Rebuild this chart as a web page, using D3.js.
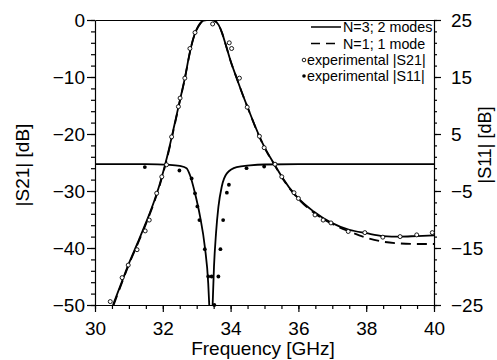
<!DOCTYPE html>
<html><head><meta charset="utf-8">
<script src="https://cdn.jsdelivr.net/npm/d3@7"></script>
<style>
html,body{margin:0;padding:0;background:#fff;}
svg{display:block;font-family:"Liberation Sans",Arial,Helvetica,sans-serif;}
</style></head>
<body><svg id="chart" width="497" height="360"></svg>
<script>
// ---------- data ----------
const xTicks = [30, 32, 34, 36, 38, 40];
const yLeftTicks = [0, -10, -20, -30, -40, -50];
const yRightTicks = [25, 15, 5, -5, -15, -25];

// model |S21|, N=3; 2 modes (GHz, dB)
const s21N3Freq = [30.53,30.8,31.0,31.25,31.5,31.75,31.9,32.05,32.2,32.35,32.5,32.65,32.8,32.9,33.0,33.1,33.2,33.3,33.45,33.55,33.65,33.75,33.85,34.0,34.18,34.3,34.5,34.85,35.0,35.3,35.5,35.95,36.45,36.95,37.5,38.0,38.5,39.0,39.5,40.0];
const s21N3Val  = [-50,-45.8,-42.7,-39.2,-35.6,-31.7,-29.0,-25.8,-22.2,-18.2,-14.2,-10.2,-5.6,-3.2,-1.6,-0.6,-0.1,0,0,-0.2,-0.9,-2.3,-4.2,-7.2,-10.2,-12.2,-15.3,-20.4,-22.3,-25.4,-27.4,-31.0,-33.6,-35.5,-36.8,-37.4,-37.9,-38.0,-37.9,-37.8];

// model |S21|, N=1; 1 mode
const s21N1Freq = [30.55,30.8,31.0,31.25,31.5,31.75,31.9,32.05,32.2,32.35,32.5,32.65,32.8,32.9,33.0,33.1,33.2,33.3,33.45,33.55,33.65,33.75,33.85,34.0,34.18,34.3,34.5,34.85,35.0,35.3,35.5,36.0,36.5,37.0,37.5,38.0,38.5,39.0,39.5,40.0];
const s21N1Val  = [-50,-46.0,-42.9,-39.4,-35.8,-31.9,-29.2,-26.0,-22.4,-18.4,-14.3,-10.3,-5.7,-3.3,-1.7,-0.7,-0.1,0,0,-0.2,-0.9,-2.3,-4.2,-7.2,-10.2,-12.2,-15.3,-20.5,-22.4,-25.5,-27.5,-31.4,-34.0,-35.8,-37.1,-38.2,-38.9,-39.2,-39.3,-39.3];

// model |S11| (right axis, dB)
const s11Freq = [30.0,31.5,32.2,32.5,32.7,32.8,32.95,33.1,33.24,33.34,33.37,33.42,33.47,33.51,33.57,33.64,33.74,33.89,34.18,34.57,35.0,36.0,40.0];
const s11Val  = [-0.3,-0.3,-0.4,-0.6,-1.0,-2.2,-5.4,-9.5,-14.8,-21.2,-25,-32,-25,-18.3,-12.4,-7.8,-4.2,-1.9,-0.8,-0.5,-0.35,-0.3,-0.3];

// experimental |S21|
const expS21Freq = [30.45,30.8,30.98,31.24,31.48,31.6,31.82,31.97,32.11,32.26,32.46,32.51,32.65,32.8,32.95,33.47,33.96,34.03,34.26,34.49,34.85,34.99,35.31,35.51,35.87,36.0,36.49,36.73,36.96,37.47,37.96,38.49,39.0,39.49,39.95];
const expS21Val  = [-49.4,-45.2,-43.0,-40.3,-37.0,-35.1,-30.4,-27.5,-25.4,-20.5,-15.2,-13.7,-10.2,-5.0,-2.2,-0.7,-4.0,-5.0,-10.2,-15.3,-20.4,-22.4,-25.3,-27.5,-30.3,-31.3,-34.2,-35.1,-35.6,-37.1,-37.3,-38.1,-38.0,-37.7,-37.3];

// experimental |S11| (right axis)
const expS11Freq = [31.47,32.49,32.85,32.95,33.02,33.08,33.24,33.34,33.44,33.52,33.64,33.7,33.78,33.89,33.95,34.47,34.99];
const expS11Val  = [-0.8,-1.4,-2.8,-5.4,-7.7,-10.1,-15.2,-20,-20,-25,-20,-15.2,-10.1,-5.3,-3.9,-1.0,-0.7];

const legendLabels = ["N=3; 2 modes", "N=1; 1 mode", "experimental |S21|", "experimental |S11|"];

// ---------- drawing ----------
const svg = d3.select("#chart");
const x = d3.scaleLinear().domain([30, 40]).range([95, 434]);
const yL = d3.scaleLinear().domain([-50, 0]).range([305, 20]);
const yR = d3.scaleLinear().domain([-25, 25]).range([305, 20]);
const fmt = d3.format("d");
const FS = 19;

svg.append("defs").append("clipPath").attr("id", "clip")
  .append("rect").attr("x", 95).attr("y", 20).attr("width", 339).attr("height", 285);

// minor ticks
const axStyle = g => { g.selectAll("path,line").attr("stroke", "#000").attr("stroke-width", 1.2); g.selectAll("text").remove(); };
svg.append("g").attr("transform", "translate(95,0)")
  .call(d3.axisLeft(yL).tickValues(d3.range(-50, 0.1, 2)).tickSize(4).tickSizeOuter(0)).call(axStyle);
svg.append("g").attr("transform", "translate(434,0)")
  .call(d3.axisRight(yR).tickValues(d3.range(-25, 25.1, 2)).tickSize(3).tickSizeOuter(0)).call(axStyle);
svg.append("g").attr("transform", "translate(0,305)")
  .call(d3.axisBottom(x).tickValues(d3.range(30, 40.01, 0.5)).tickSize(4).tickSizeOuter(0)).call(axStyle);
svg.append("g").attr("transform", "translate(0,20)")
  .call(d3.axisTop(x).tickValues([]).tickSizeOuter(0)).call(axStyle);

// major ticks + labels
const majStyle = g => {
  g.selectAll("path").remove();
  g.selectAll("line").attr("stroke", "#000").attr("stroke-width", 1.2);
  g.selectAll("text").attr("font-size", FS).attr("fill", "#000").attr("font-family", null);
};
svg.append("g").attr("transform", "translate(95,0)")
  .call(d3.axisLeft(yL).tickValues(yLeftTicks).tickFormat(fmt).tickSize(8).tickPadding(2)).call(majStyle);
svg.append("g").attr("transform", "translate(434,0)")
  .call(d3.axisRight(yR).tickValues(yRightTicks).tickFormat(fmt).tickSize(7).tickPadding(10)).call(majStyle);
svg.append("g").attr("transform", "translate(0,305)")
  .call(d3.axisBottom(x).tickValues(xTicks).tickFormat(fmt).tickSize(7).tickPadding(10)).call(majStyle);

// axis titles
svg.append("text").attr("transform", "translate(29,165) rotate(-90)").attr("text-anchor", "middle")
  .attr("font-size", FS).text("|S21| [dB]");
svg.append("text").attr("transform", "translate(491,145) rotate(-90)").attr("text-anchor", "middle")
  .attr("font-size", 18).text("|S11| [dB]");
svg.append("text").attr("x", 263).attr("y", 355).attr("text-anchor", "middle")
  .attr("font-size", FS).text("Frequency [GHz]");

// curves
const plot = svg.append("g").attr("clip-path", "url(#clip)");
const zip = (a, b) => a.map((v, i) => [v, b[i]]);
const lineL = d3.line().x(d => x(d[0])).y(d => yL(d[1])).curve(d3.curveMonotoneX);
const lineR = d3.line().x(d => x(d[0])).y(d => yR(d[1])).curve(d3.curveMonotoneX);

plot.append("path").datum(zip(s21N1Freq, s21N1Val)).attr("d", lineL)
  .attr("fill", "none").attr("stroke", "#000").attr("stroke-width", 1.8).attr("stroke-dasharray", "10,6");
plot.append("path").datum(zip(s21N3Freq, s21N3Val)).attr("d", lineL)
  .attr("fill", "none").attr("stroke", "#000").attr("stroke-width", 1.8);
plot.append("path").datum(zip(s11Freq, s11Val)).attr("d", lineR)
  .attr("fill", "none").attr("stroke", "#000").attr("stroke-width", 1.8);

// experimental points
svg.append("g").selectAll("circle").data(zip(expS21Freq, expS21Val)).join("circle")
  .attr("cx", d => x(d[0])).attr("cy", d => yL(d[1])).attr("r", 2)
  .attr("fill", "#fff").attr("stroke", "#000").attr("stroke-width", 0.9);
svg.append("g").selectAll("circle").data(zip(expS11Freq, expS11Val)).join("circle")
  .attr("cx", d => x(d[0])).attr("cy", d => yR(d[1])).attr("r", 1.9).attr("fill", "#000");

// legend
const lg = svg.append("g").attr("font-size", 14.3);
const rows = [27, 43.5, 60, 76];
lg.append("line").attr("x1", 311).attr("x2", 341).attr("y1", rows[0]).attr("y2", rows[0]).attr("stroke", "#000").attr("stroke-width", 1.5);
lg.append("line").attr("x1", 311).attr("x2", 337).attr("y1", rows[1]).attr("y2", rows[1]).attr("stroke", "#000").attr("stroke-width", 1.5).attr("stroke-dasharray", "9,6");
lg.append("circle").attr("cx", 304).attr("cy", rows[2]).attr("r", 1.8).attr("fill", "#fff").attr("stroke", "#000").attr("stroke-width", 0.9);
lg.append("circle").attr("cx", 304).attr("cy", rows[3]).attr("r", 1.8).attr("fill", "#000");
const lx = [343, 343, 307, 307];
legendLabels.forEach((t, i) => {
  lg.append("text").attr("x", lx[i]).attr("y", rows[i]).attr("dy", "0.35em").text(t);
});
</script></body></html>
